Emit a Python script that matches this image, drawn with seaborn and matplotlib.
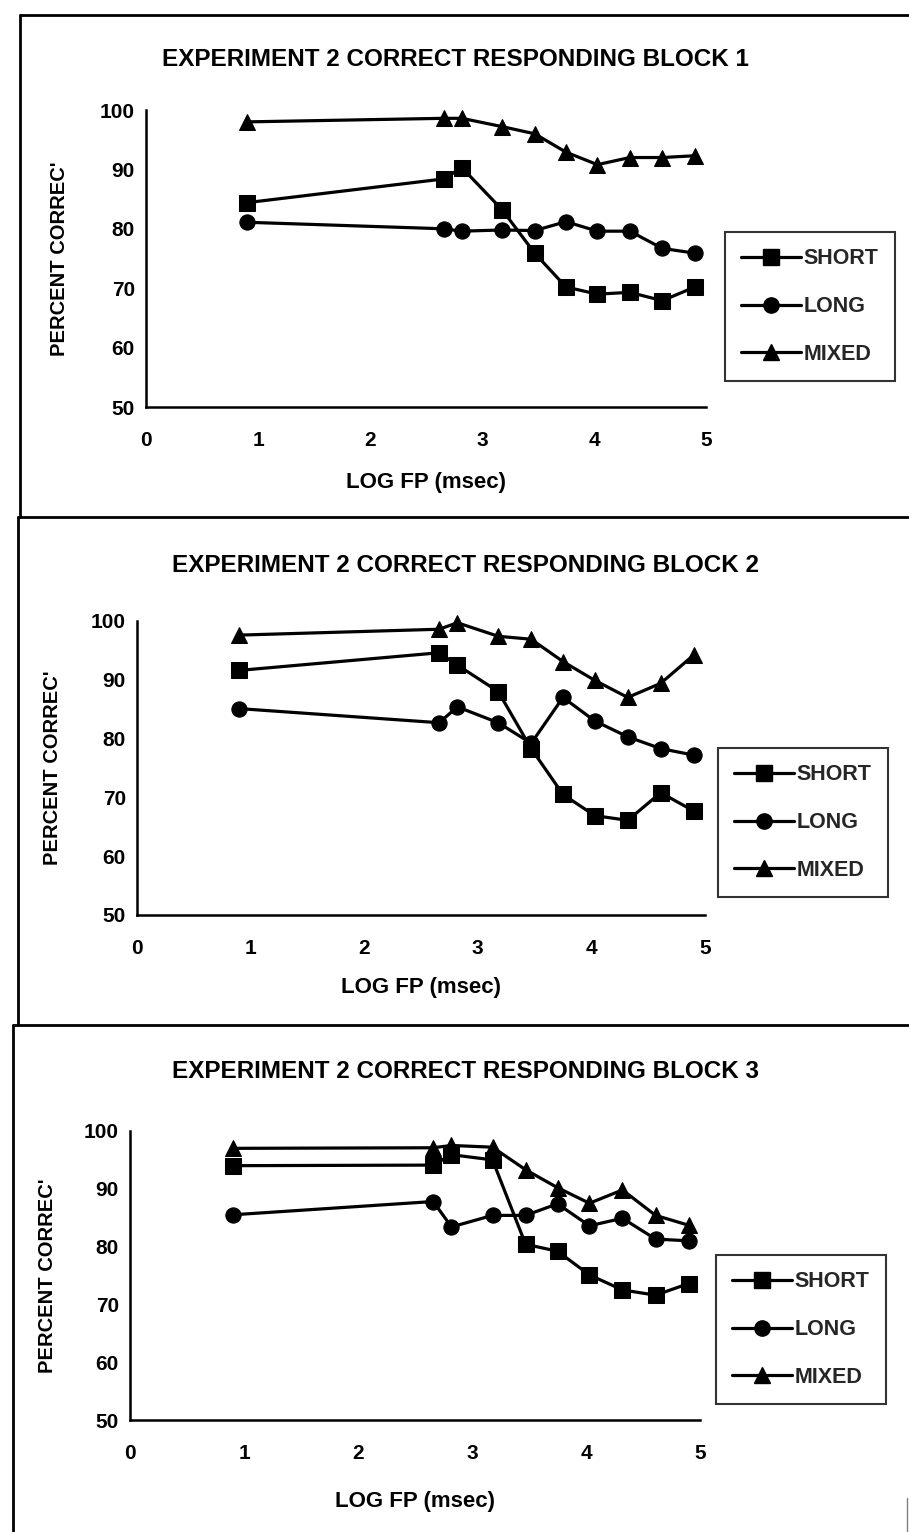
import numpy as np
import pandas as pd
import matplotlib
matplotlib.use("Agg")
import matplotlib.pyplot as plt
from matplotlib.lines import Line2D
import seaborn as sns

sns.set_theme(style="white")
plt.rcParams["font.family"] = ["Liberation Sans", "DejaVu Sans"]
plt.rcParams["font.weight"] = "bold"

# ----------------------------------
# Data
# ----------------------------------
log_fp = [0.9, 2.66, 2.82, 3.18, 3.47, 3.75, 4.03, 4.32, 4.61, 4.9]
conditions = ["SHORT", "LONG", "MIXED"]

block1_short = [84.4, 88.4, 90.3, 83.2, 75.9, 70.2, 69.0, 69.3, 67.9, 70.2]
block1_long = [81.1, 80.0, 79.6, 79.8, 79.7, 81.2, 79.6, 79.6, 76.7, 75.9]
block1_mixed = [98.0, 98.6, 98.6, 97.2, 96.0, 92.9, 90.8, 92.0, 92.0, 92.3]

block2_short = [91.6, 94.6, 92.5, 88.0, 78.3, 70.5, 66.9, 66.1, 70.8, 67.7]
block2_long = [85.1, 82.7, 85.4, 82.7, 79.2, 87.0, 83.0, 80.3, 78.3, 77.2]
block2_mixed = [97.6, 98.6, 99.7, 97.4, 96.9, 93.1, 89.9, 87.0, 89.4, 94.2]

block3_short = [94.0, 94.1, 95.9, 95.0, 80.4, 79.2, 75.1, 72.5, 71.6, 73.6]
block3_long = [85.5, 87.8, 83.4, 85.4, 85.4, 87.4, 83.6, 84.9, 81.3, 81.0]
block3_mixed = [97.0, 97.1, 97.5, 97.2, 93.3, 90.2, 87.5, 89.8, 85.4, 83.7]

blocks = [
    [block1_short, block1_long, block1_mixed],
    [block2_short, block2_long, block2_mixed],
    [block3_short, block3_long, block3_mixed],
]
titles = ["EXPERIMENT 2 CORRECT RESPONDING BLOCK 1",
          "EXPERIMENT 2 CORRECT RESPONDING BLOCK 2",
          "EXPERIMENT 2 CORRECT RESPONDING BLOCK 3"]

markers = {"SHORT": "s", "LONG": "o", "MIXED": "^"}
msizes = {"SHORT": 11, "LONG": 11, "MIXED": 12}

W, H = 909, 1532
fig = plt.figure(figsize=(W / 100, H / 100), dpi=100)

# pixel layout for each panel: axes box, title, legend, label positions
panels = [
    dict(ax=(146, 110, 706, 407), title=(455, 60), leg=(725, 232), ylab=-0.138, xlab=-0.219),
    dict(ax=(137, 621, 705, 915), title=(466, 566), leg=(718, 748), ylab=-0.132, xlab=-0.211),
    dict(ax=(130, 1131, 700, 1420), title=(465, 1071), leg=(716, 1255), ylab=-0.128, xlab=-0.245),
]

for i, p in enumerate(panels):
    x0, y0, x1, y1 = p["ax"]
    ax = fig.add_axes([x0 / W, 1 - y1 / H, (x1 - x0) / W, (y1 - y0) / H])

    df = pd.DataFrame({
        "log_fp": log_fp * 3,
        "pct": blocks[i][0] + blocks[i][1] + blocks[i][2],
        "cond": np.repeat(conditions, len(log_fp)),
    })
    for cond in conditions:
        sub = df[df["cond"] == cond]
        sns.lineplot(data=sub, x="log_fp", y="pct", ax=ax, color="black",
                     marker=markers[cond], markersize=msizes[cond],
                     markeredgecolor="black", linewidth=2.3,
                     sort=False, legend=False)

    ax.set_xlim(0, 5)
    ax.set_ylim(50, 100)
    ax.set_xticks([0, 1, 2, 3, 4, 5])
    ax.set_yticks([50, 60, 70, 80, 90, 100])
    ax.set_xticklabels(["0", "1", "2", "3", "4", "5"], fontsize=15, fontweight="bold")
    ax.set_yticklabels(["50", "60", "70", "80", "90", "100"], fontsize=15, fontweight="bold")
    ax.tick_params(direction="inout", length=10, width=1.5, colors="black")
    ax.tick_params(axis="x", pad=12)
    ax.tick_params(axis="y", pad=3)
    for side in ["top", "right"]:
        ax.spines[side].set_visible(False)
    for side in ["left", "bottom"]:
        ax.spines[side].set_color("black")
        ax.spines[side].set_linewidth(1.8)
    ax.patch.set_alpha(0)
    for line in ax.lines:
        line.set_clip_on(False)

    ax.set_xlabel("LOG FP (msec)", fontsize=16, fontweight="bold", color="black")
    ax.xaxis.set_label_coords(0.5, p["xlab"])
    ax.set_ylabel("PERCENT CORREC'", fontsize=14.5, fontweight="bold", color="black")
    ax.yaxis.set_label_coords(p["ylab"], 0.5)

    tx, ty = p["title"]
    fig.text(tx / W, 1 - ty / H, titles[i], ha="center", va="center",
             fontsize=17.5, fontweight="bold", color="black")

    handles = [Line2D([], [], color="black", lw=2.3, marker=markers[c], markersize=msizes[c])
               for c in conditions]
    lx, ly = p["leg"]
    leg = ax.legend(handles, conditions, loc="upper left",
                    bbox_to_anchor=(lx / W, 1 - ly / H), bbox_transform=fig.transFigure,
                    prop=dict(size=15.5, weight="bold"), borderaxespad=0,
                    frameon=True, fancybox=False, handlelength=2.8, handletextpad=0.1,
                    labelspacing=1.25, borderpad=0.75)
    leg.get_frame().set_edgecolor("black")
    leg.get_frame().set_linewidth(1.5)

# panel frames of the scanned page
def seg(xa, ya, xb, yb):
    fig.add_artist(Line2D([xa / W, xb / W], [1 - ya / H, 1 - yb / H],
                          transform=fig.transFigure, color="black", lw=2))

seg(20, 15, 909, 15)
seg(20, 15, 20, 517)
seg(18, 517, 909, 517)
seg(18, 517, 18, 1025)
seg(13, 1025, 909, 1025)
seg(13, 1025, 13, 1532)
fig.add_artist(Line2D([907 / W, 907 / W], [1 - 1498 / H, 0], transform=fig.transFigure,
                      color="gray", lw=1))

fig.savefig("out.png", dpi=100)
